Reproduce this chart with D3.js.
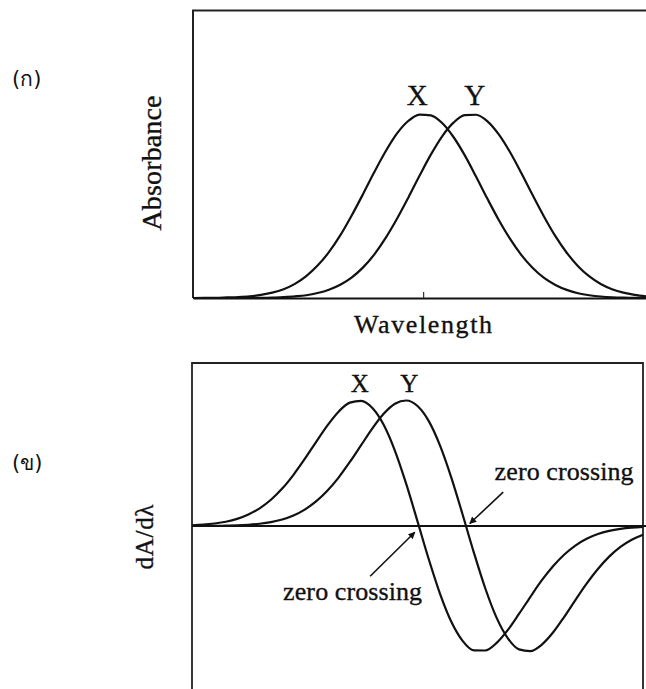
<!DOCTYPE html>
<html>
<head>
<meta charset="utf-8">
<script src="https://cdn.jsdelivr.net/npm/d3@7"></script>
<style>
  html, body { margin: 0; padding: 0; background: #fff; }
  svg { display: block; }
</style>
</head>
<body>
<svg id="chart" width="646" height="689"></svg>
<script>
// Wavelength samples shared by every curve (arbitrary units)
const wavelength = [0, 2.5, 5, 7.5, 10, 12.5, 15, 17.5, 20, 22.5, 25, 27.5, 30, 32.5, 35, 37.5,
  40, 42.5, 45, 47.5, 50, 52.5, 55, 57.5, 60, 62.5, 65, 67.5, 70, 72.5, 75, 77.5,
  80, 82.5, 85, 87.5, 90, 92.5, 95, 97.5, 100];

// (ก) absorbance spectra of X and Y
const absorbanceX = [0.000, 0.001, 0.001, 0.003, 0.005, 0.009, 0.017, 0.029, 0.048, 0.077, 0.119, 0.176,
  0.249, 0.340, 0.447, 0.563, 0.683, 0.796, 0.893, 0.962, 0.997, 0.993, 0.951, 0.875,
  0.775, 0.659, 0.539, 0.424, 0.321, 0.233, 0.163, 0.109, 0.071, 0.044, 0.026, 0.015,
  0.008, 0.004, 0.002, 0.001, 0.001];
const absorbanceY = [0.000, 0.000, 0.000, 0.000, 0.000, 0.001, 0.001, 0.002, 0.005, 0.009, 0.015, 0.027,
  0.045, 0.072, 0.111, 0.165, 0.236, 0.325, 0.429, 0.544, 0.664, 0.779, 0.879, 0.953,
  0.994, 0.996, 0.960, 0.889, 0.792, 0.678, 0.558, 0.442, 0.336, 0.246, 0.173, 0.117,
  0.076, 0.048, 0.029, 0.017, 0.009];

// (ข) first-derivative spectra dA/dλ of X and Y
const derivX = [0.006, 0.011, 0.020, 0.034, 0.057, 0.092, 0.141, 0.209, 0.298, 0.408, 0.534, 0.669,
  0.800, 0.911, 0.983, 0.997, 0.940, 0.806, 0.599, 0.335, 0.037, -0.265, -0.540, -0.763,
  -0.915, -0.991, -0.992, -0.933, -0.830, -0.701, -0.566, -0.436, -0.323, -0.229, -0.156, -0.102,
  -0.064, -0.039, -0.023, -0.013, -0.007];
const derivY = [0.000, 0.001, 0.001, 0.003, 0.005, 0.010, 0.018, 0.031, 0.052, 0.084, 0.131, 0.196,
  0.281, 0.386, 0.510, 0.644, 0.778, 0.894, 0.974, 1.000, 0.956, 0.836, 0.641, 0.386,
  0.092, -0.212, -0.494, -0.728, -0.893, -0.983, -0.997, -0.947, -0.851, -0.726, -0.590, -0.459,
  -0.342, -0.244, -0.167, -0.110, -0.070];

// Peak labels: [text, wavelength, value]
const peakLabelsTop = [["X", 49.5, 1.05], ["Y", 62.2, 1.05]];
const peakLabelsBottom = [["X", 37.2, 1.07], ["Y", 48.2, 1.07]];
// Wavelength tick on the absorbance axis
const topTicks = [50.8];
// Zero-crossing callouts: text anchor, arrow tail and arrow head in data units
const callouts = [
  { text: "zero crossing", tx: 67.1, ty: 0.37, from: [69.0, 0.27], to: [61.6, 0.02] },
  { text: "zero crossing", tx: 20.2, ty: -0.59, from: [39.5, -0.40], to: [49.4, -0.05] }
];

const svg = d3.select("#chart");
const SERIF = '"Liberation Serif", "Times New Roman", Times, serif';
const SANS = '"DejaVu Sans", "Noto Sans", sans-serif';
const INK = "#111";

function serifText(sel, size) {
  return sel.style("font-family", SERIF).style("font-size", size + "px")
    .attr("fill", INK).attr("stroke", INK).attr("stroke-width", 0.35);
}

svg.append("defs").append("marker")
  .attr("id", "arrowHead").attr("viewBox", "0 0 10 10")
  .attr("refX", 9).attr("refY", 5)
  .attr("markerWidth", 9).attr("markerHeight", 7)
  .attr("markerUnits", "userSpaceOnUse")
  .attr("orient", "auto")
  .append("path").attr("d", "M0,0 L10,5 L0,10 Z").attr("fill", INK);

// ---------- (ก) absorbance panel ----------
const xTop = d3.scaleLinear().domain([0, 100]).range([193, 646]);
const yTop = d3.scaleLinear().domain([0, 1]).range([298, 114]);
const topFrameY = 10.5;

const gTop = svg.append("g");
gTop.append("path")
  .attr("d", `M${xTop.range()[1]},${topFrameY} H${xTop.range()[0]} V${yTop(0)}`)
  .attr("fill", "none").attr("stroke", "#222").attr("stroke-width", 2);

gTop.append("g")
  .attr("transform", `translate(0,${yTop(0)})`)
  .call(d3.axisBottom(xTop).tickValues(topTicks).tickSize(-6).tickSizeOuter(0).tickFormat(""))
  .call(g => g.select(".domain").attr("stroke", INK).attr("stroke-width", 2.2))
  .call(g => g.selectAll(".tick line").attr("stroke", "#333").attr("stroke-width", 1.2));

const lineTop = d3.line().x((d, i) => xTop(wavelength[i])).y(d => yTop(d)).curve(d3.curveMonotoneX);
[absorbanceX, absorbanceY].forEach(series => {
  gTop.append("path").attr("d", lineTop(series))
    .attr("fill", "none").attr("stroke", INK).attr("stroke-width", 2.2);
});

gTop.selectAll(".peakTop").data(peakLabelsTop).enter().append("text")
  .call(serifText, 29)
  .attr("x", d => xTop(d[1])).attr("y", d => yTop(d[2]))
  .attr("text-anchor", "middle")
  .text(d => d[0]);

gTop.append("text")
  .call(serifText, 28)
  .attr("transform", "translate(161,163) rotate(-90)")
  .attr("text-anchor", "middle")
  .attr("textLength", 135).attr("lengthAdjust", "spacing")
  .text("Absorbance");

gTop.append("text")
  .call(serifText, 26)
  .attr("x", 423).attr("y", 333)
  .attr("text-anchor", "middle")
  .attr("textLength", 138).attr("lengthAdjust", "spacing")
  .text("Wavelength");

svg.append("text")
  .style("font-family", SANS).style("font-size", "21px").attr("fill", INK)
  .attr("x", 12).attr("y", 86).text("(ก)");

// ---------- (ข) derivative panel ----------
const xBot = d3.scaleLinear().domain([0, 100]).range([192, 643]);
const yBot = d3.scaleLinear().domain([-1, 1]).range([651.5, 400.5]);
const botFrameTop = 363;

const gBot = svg.append("g");
gBot.append("path")
  .attr("d", `M${xBot.range()[0]},689 V${botFrameTop} H${xBot.range()[1]} V689`)
  .attr("fill", "none").attr("stroke", "#222").attr("stroke-width", 1.8);

gBot.append("line")
  .attr("x1", xBot.range()[0]).attr("x2", 646)
  .attr("y1", yBot(0)).attr("y2", yBot(0))
  .attr("stroke", INK).attr("stroke-width", 2.2);

const lineBot = d3.line().x((d, i) => xBot(wavelength[i])).y(d => yBot(d)).curve(d3.curveMonotoneX);
[derivX, derivY].forEach(series => {
  gBot.append("path").attr("d", lineBot(series))
    .attr("fill", "none").attr("stroke", INK).attr("stroke-width", 2.2);
});

gBot.selectAll(".peakBot").data(peakLabelsBottom).enter().append("text")
  .call(serifText, 25)
  .attr("x", d => xBot(d[1])).attr("y", d => yBot(d[2]))
  .attr("text-anchor", "middle")
  .text(d => d[0]);

callouts.forEach(c => {
  gBot.append("line")
    .attr("x1", xBot(c.from[0])).attr("y1", yBot(c.from[1]))
    .attr("x2", xBot(c.to[0])).attr("y2", yBot(c.to[1]))
    .attr("stroke", INK).attr("stroke-width", 1.6)
    .attr("marker-end", "url(#arrowHead)");
  gBot.append("text")
    .call(serifText, 26)
    .attr("x", xBot(c.tx)).attr("y", yBot(c.ty))
    .attr("textLength", 139).attr("lengthAdjust", "spacing")
    .text(c.text);
});

gBot.append("text")
  .call(serifText, 25)
  .attr("transform", "translate(153,537) rotate(-90)")
  .attr("text-anchor", "middle")
  .attr("textLength", 65).attr("lengthAdjust", "spacing")
  .text("dA/dλ");

svg.append("text")
  .style("font-family", SANS).style("font-size", "21px").attr("fill", INK)
  .attr("x", 12).attr("y", 470).text("(ข)");
</script>
</body>
</html>
